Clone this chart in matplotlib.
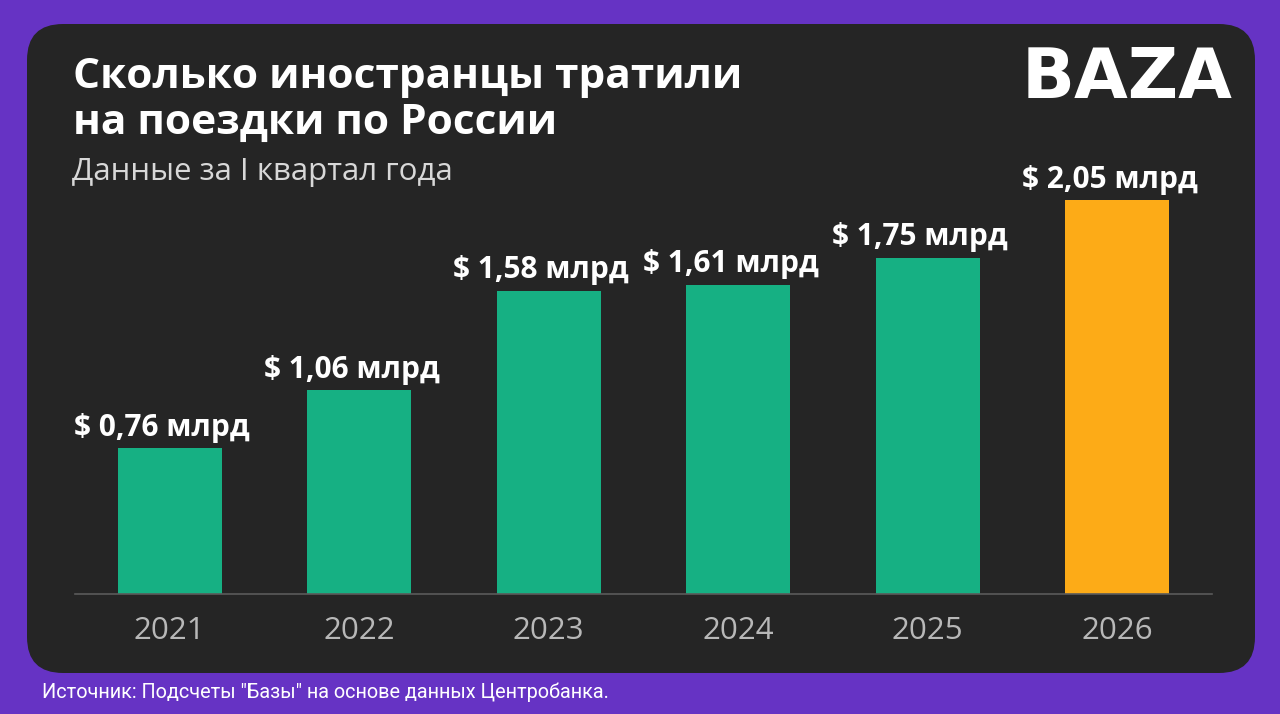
import matplotlib.pyplot as plt
from matplotlib.patches import FancyBboxPatch

years = ['2021', '2022', '2023', '2024', '2025', '2026']
values = [0.76, 1.06, 1.58, 1.61, 1.75, 2.05]
labels = ['$ 0,76 млрд', '$ 1,06 млрд', '$ 1,58 млрд', '$ 1,61 млрд', '$ 1,75 млрд', '$ 2,05 млрд']
colors = ['#16b083'] * 5 + ['#fdab17']

title_lines = ['Сколько иностранцы тратили', 'на поездки по России']
subtitle = 'Данные за I квартал года'
source = 'Источник: Подсчеты "Базы" на основе данных Центробанка.'

W, H = 1280, 714
fig = plt.figure(figsize=(W / 100, H / 100), dpi=100)
fig.patch.set_facecolor('#6633c4')

# background panel in pixel coordinates
bg = fig.add_axes([0, 0, 1, 1])
bg.set_xlim(0, W)
bg.set_ylim(H, 0)
bg.axis('off')
bg.add_patch(FancyBboxPatch((27, 24), 1228, 649,
                            boxstyle='round,pad=0,rounding_size=36',
                            fc='#252525', ec='none'))

for ty, line in zip([77, 123], title_lines):
    bg.text(73, ty, line, color='white', fontsize=30.5, fontweight='bold',
            family='Open Sans', va='center')
bg.text(72, 172, subtitle, color='#d8d8d8', fontsize=22.5, family='Open Sans', va='center')
bg.text(42, 692, source, color='white', fontsize=14.3, family='Roboto', va='center')
bg.text(1127, 78, 'BAZA', color='white', fontsize=50, fontweight='heavy',
        family='DejaVu Sans', va='center', ha='center')

# chart
ax = fig.add_axes([75 / W, (H - 594) / H, (1212 - 75) / W, (594 - 180) / H])
ax.set_facecolor('none')
x = range(len(years))
bars = ax.bar(x, values, width=0.55, color=colors)
for b, lab in zip(bars, labels):
    ax.annotate(lab, (b.get_x() + b.get_width() / 2 - 0.04, b.get_height()),
                xytext=(0, 4), textcoords='offset points', ha='center', va='bottom',
                color='white', fontsize=21.5, fontweight='bold', family='Open Sans')
ax.set_xlim(-0.5, 5.5)
ax.set_ylim(0, 2.156)
ax.set_xticks(list(x))
ax.set_xticklabels(years, color='#b8b8b8', fontsize=22.5, family='Open Sans',
                   fontweight='medium')
ax.tick_params(axis='x', length=0, pad=16)
ax.set_yticks([])
for s in ['top', 'right', 'left']:
    ax.spines[s].set_visible(False)
ax.spines['bottom'].set_color('#5a5a5a')
ax.spines['bottom'].set_linewidth(1.2)

fig.savefig('out.png', dpi=100, facecolor=fig.get_facecolor())
